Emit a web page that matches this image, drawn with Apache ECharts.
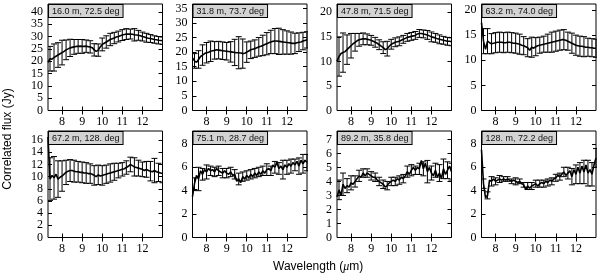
<!DOCTYPE html>
<html><head><meta charset="utf-8">
<script src="https://cdn.jsdelivr.net/npm/echarts@6/dist/echarts.min.js"></script>
<style>html,body{margin:0;padding:0;background:#fff}#c{width:600px;height:278px}</style>
</head><body><div id="c"></div>
<script>
// Wavelength grid (micron)
const wavelength = [7.3,7.4,7.5,7.6,7.7,7.8,7.9,8.0,8.1,8.2,
 8.3,8.4,8.5,8.6,8.7,8.8,8.9,9.0,9.1,9.2,
 9.3,9.4,9.5,9.6,9.7,9.8,9.9,10.0,10.1,10.2,
 10.3,10.4,10.5,10.6,10.7,10.8,10.9,11.0,11.1,11.2,
 11.3,11.4,11.5,11.6,11.7,11.8,11.9,12.0,12.1,12.2,
 12.3,12.4,12.5,12.6,12.7,12.8,12.9,13.0];
// Error bars are drawn at every second wavelength (7.4, 7.6, ... 13.0)
const errWavelength = [7.4,7.6,7.8,8.0,8.2,8.4,8.6,8.8,9.0,9.2,9.4,9.6,9.8,10.0,10.2,
 10.4,10.6,10.8,11.0,11.2,11.4,11.6,11.8,12.0,12.2,12.4,12.6,12.8,13.0];

const panelLabels = ["16.0 m, 72.5 deg","31.8 m, 73.7 deg","47.8 m, 71.5 deg","63.2 m, 74.0 deg",
 "67.2 m, 128. deg","75.1 m, 28.7 deg","89.2 m, 35.8 deg","128. m, 72.2 deg"];

const flux1 = [19.5,21.0,20.8,21.5,22.0,22.5,23.0,23.5,24.0,24.6,
 25.0,25.4,25.6,25.8,26.0,26.0,26.1,26.0,26.0,26.1,
 25.9,25.8,25.5,24.6,24.0,24.5,25.8,26.8,27.3,27.8,
 28.3,28.8,29.1,29.4,29.8,30.0,30.3,30.6,30.8,31.0,
 31.0,31.0,30.9,30.7,30.6,30.5,30.3,30.0,29.8,29.5,
 29.3,29.2,29.0,28.8,28.7,28.5,28.4,28.3];
const err1 = [5,5.5,5,5,4,3.5,3,2.8,2.8,2.5,2.5,2.5,2.5,2.6,2.5,2.5,2.3,2.2,2.2,2.2,2.0,2.5,2.0,1.8,1.8,1.6,1.5,1.5,1.5];

const flux2 = [18.0,17.0,16.5,17.5,18.5,19.0,19.5,19.8,20.0,20.3,
 20.5,20.6,20.8,20.7,20.6,20.5,20.4,20.3,20.2,20.1,
 20.0,19.9,19.8,19.8,19.7,19.5,19.6,20.0,20.4,20.8,
 21.0,21.2,21.5,21.8,22.0,22.3,22.6,22.9,23.2,23.5,
 23.7,23.8,23.8,23.7,23.6,23.5,23.4,23.3,23.2,23.1,
 23.0,23.0,23.2,23.4,23.5,23.8,24.0,24.2];
const err2 = [2.5,3,3.5,3.5,3.5,3,3,3,3,3.5,4.5,5.5,5.0,3.5,3.0,3.0,3.2,3.5,3.8,4.0,4.3,4.5,4.2,4.0,3.8,3.5,3.2,3.0,2.8];

const flux3 = [10.0,11.0,11.6,11.8,12.0,12.4,12.8,13.2,13.6,13.9,
 14.2,14.4,14.5,14.6,14.6,14.5,14.4,14.3,14.1,13.9,
 13.7,13.4,13.1,12.8,12.4,12.6,13.1,13.5,13.7,13.9,
 14.0,14.1,14.3,14.5,14.7,14.9,15.0,15.1,15.2,15.3,
 15.6,15.7,15.7,15.6,15.5,15.4,15.2,15.0,14.9,14.8,
 14.6,14.5,14.4,14.3,14.2,14.1,14.1,14.0];
const err3 = [4,4,3,2.5,1.8,1.3,1.2,1.1,1.0,1.0,1.0,1.2,1.5,1.0,0.9,0.9,0.8,0.8,0.8,0.8,0.8,0.8,0.9,1.0,0.9,0.9,0.8,0.8,0.8];

const flux4 = [17.5,13.8,12.2,13.8,13.5,13.3,13.4,13.5,13.6,13.6,
 13.6,13.5,13.5,13.6,13.6,13.5,13.4,13.4,13.3,13.2,
 13.0,12.9,12.7,12.5,12.0,12.6,12.4,12.7,12.9,13.0,
 13.1,13.2,13.3,13.4,13.5,13.6,13.7,13.8,13.9,14.0,
 14.1,14.1,14.0,13.8,13.6,13.4,13.2,13.0,12.9,12.8,
 12.8,12.7,12.6,12.6,12.5,12.5,12.4,12.4];
const err4 = [2.5,2.5,2.0,2.0,2.0,2.0,2.0,2.0,2.0,2.0,1.8,1.8,2.0,1.8,1.6,1.6,1.8,2.0,2.0,2.0,2.0,1.8,2.0,2.0,2.0,2.0,1.8,1.8,1.8];

const flux5 = [16.5,9.6,10.2,9.8,10.4,9.6,9.9,10.1,10.4,10.7,
 10.9,11.0,11.0,10.9,10.8,10.8,10.7,10.7,10.6,10.6,
 10.5,10.5,10.4,10.2,10.0,10.3,10.1,10.2,10.3,10.4,
 10.5,10.6,10.7,10.8,10.9,11.0,11.1,11.2,11.3,11.5,
 11.7,12.0,11.8,11.6,11.5,11.4,11.3,11.2,11.0,11.2,
 11.0,10.9,10.8,11.0,10.8,10.7,10.6,10.5];
const err5 = [3.5,3.5,3.0,2.5,2.0,1.8,1.8,1.7,1.7,1.7,1.6,1.6,1.6,1.6,1.5,1.5,1.4,1.2,1.1,1.1,1.2,1.5,1.3,1.2,1.3,1.6,2.0,1.5,1.5];

const flux6 = [3.5,4.6,5.3,5.0,5.7,5.4,5.8,5.6,5.9,5.7,
 5.8,5.6,5.9,5.7,5.6,5.5,5.7,5.5,5.4,5.6,
 5.3,5.4,4.8,5.0,4.7,5.2,5.0,5.3,5.1,5.4,
 5.2,5.5,5.3,5.6,5.4,5.7,5.5,5.8,5.9,5.7,
 6.2,6.0,6.4,5.9,6.1,5.8,6.2,6.0,6.3,6.1,
 6.4,6.2,6.5,6.1,6.6,6.3,6.6,6.4];
const err6 = [0.5,1.0,0.5,0.6,0.4,0.4,0.4,0.4,0.4,0.4,0.4,0.5,0.4,0.4,0.4,0.4,0.4,0.4,0.5,0.4,0.5,0.5,0.8,0.6,0.6,0.5,0.7,0.8,0.7];

const flux7 = [2.9,3.4,3.0,3.8,3.5,3.7,3.6,3.9,3.8,4.0,
 4.2,4.4,4.3,4.6,4.4,4.6,4.5,4.4,4.3,4.3,
 4.1,4.0,3.9,3.8,3.6,3.7,3.9,4.0,4.1,4.0,
 4.2,4.1,4.3,4.2,4.4,4.7,4.5,4.8,5.0,4.8,
 5.0,4.9,5.5,4.9,5.3,4.7,5.0,4.6,4.4,4.8,
 4.3,4.6,4.2,4.9,4.5,4.8,5.1,4.7];
const err7 = [0.7,0.8,0.5,0.5,0.4,0.4,0.3,0.3,0.3,0.3,0.3,0.3,0.3,0.3,0.3,0.3,0.3,0.4,0.4,0.3,0.4,0.5,0.8,0.5,0.5,0.6,0.7,0.6,0.6];

const flux8 = [7.5,4.6,3.4,3.6,4.9,4.8,5.0,4.8,4.9,5.0,
 4.9,5.0,4.9,5.0,4.9,4.8,4.9,4.8,4.7,4.8,
 4.6,4.5,4.1,4.4,4.2,4.4,4.5,4.6,4.4,4.6,
 4.7,4.6,4.8,4.7,4.9,4.8,5.0,5.1,5.3,5.2,
 5.4,5.6,5.3,5.5,5.7,5.2,5.8,5.4,6.0,5.5,
 6.1,5.6,6.2,5.5,5.8,5.4,6.2,6.8];
const err8 = [0.4,0.3,0.4,0.3,0.3,0.2,0.2,0.2,0.3,0.2,0.2,0.3,0.3,0.3,0.3,0.3,0.3,0.3,0.3,0.3,0.4,0.5,0.7,0.8,0.9,1.0,1.1,1.0,0.8];

const yMax = [43.2,36.5,21.7,21.2,17.5,9.1,7.6,9.1];
const yTicks = [[0,5,10,15,20,25,30,35,40],[0,5,10,15,20,25,30,35],[0,5,10,15,20],[0,5,10,15,20],
 [0,2,4,6,8,10,12,14,16],[0,2,4,6,8],[0,1,2,3,4,5,6,7],[0,2,4,6,8]];
const xTicks = [8,9,10,11,12];
const xMin = 7.3, xMax = 13.0;

const fluxes = [flux1,flux2,flux3,flux4,flux5,flux6,flux7,flux8];
const errs = [err1,err2,err3,err4,err5,err6,err7,err8];

const lefts = [48,192.5,337,481.5];
const tops = [4,131];
const gw = 114.5, gh = 106.5;
const serif = 'Liberation Serif';
const sans = 'Liberation Sans';

const grids=[], xAxes=[], yAxes=[], series=[], graphics=[];
for (let i=0;i<8;i++){
  const L = lefts[i%4], T = tops[Math.floor(i/4)];
  grids.push({left:L, top:T, width:gw, height:gh, show:true, borderColor:'#000', borderWidth:1, backgroundColor:'transparent'});
}
const tickStyle = {show:true, inside:true, length:4, lineStyle:{color:'#000', width:1}};
for (let i=0;i<8;i++){
  xAxes.push({type:'value', gridIndex:i, min:xMin, max:xMax, position:'bottom',
    axisLine:{show:false}, splitLine:{show:false},
    axisTick:Object.assign({customValues:xTicks}, tickStyle),
    axisLabel:{customValues:xTicks, fontFamily:serif, fontSize:12, color:'#000', margin:5}});
  yAxes.push({type:'value', gridIndex:i, min:0, max:yMax[i], position:'left',
    axisLine:{show:false}, splitLine:{show:false},
    axisTick:Object.assign({customValues:yTicks[i]}, tickStyle),
    axisLabel:{customValues:yTicks[i], fontFamily:serif, fontSize:12, color:'#000', margin:5}});
}
for (let i=0;i<8;i++){
  xAxes.push({type:'value', gridIndex:i, min:xMin, max:xMax, position:'top',
    axisLine:{show:false}, splitLine:{show:false},
    axisTick:Object.assign({customValues:xTicks}, tickStyle), axisLabel:{show:false}});
  yAxes.push({type:'value', gridIndex:i, min:0, max:yMax[i], position:'right',
    axisLine:{show:false}, splitLine:{show:false},
    axisTick:Object.assign({customValues:yTicks[i]}, tickStyle), axisLabel:{show:false}});
}
function errRender(params, api){
  const x = api.value(0), y = api.value(1), e = api.value(2);
  const t = api.coord([x, y+e]), b = api.coord([x, y-e]);
  const c = 3;
  const st = {stroke:'#000', lineWidth:1};
  return {type:'group', children:[
    {type:'line', shape:{x1:t[0],y1:t[1],x2:b[0],y2:b[1]}, style:st},
    {type:'line', shape:{x1:t[0]-c,y1:t[1],x2:t[0]+c,y2:t[1]}, style:st},
    {type:'line', shape:{x1:b[0]-c,y1:b[1],x2:b[0]+c,y2:b[1]}, style:st}
  ]};
}
for (let i=0;i<8;i++){
  const f = fluxes[i], e = errs[i];
  series.push({type:'custom', xAxisIndex:i, yAxisIndex:i, clip:true, silent:true,
    renderItem:errRender,
    data: errWavelength.map((w,k)=>[w, f[wavelength.indexOf(w)], e[k]])});
  series.push({type:'line', xAxisIndex:i, yAxisIndex:i, showSymbol:false, clip:true, silent:true,
    lineStyle:{color:'#000', width:1.6}, data: wavelength.map((w,k)=>[w, f[k]])});
  const L = lefts[i%4], T = tops[Math.floor(i/4)];
  graphics.push({type:'text', left:L, top:T, z:100,
    style:{text:panelLabels[i], font:'9px '+sans, fill:'#111',
      backgroundColor:'#d3d3d3', borderColor:'#000', borderWidth:1, padding:[2,3,1,3]}});
}
graphics.push({type:'text', left:2, top:'middle', rotation:Math.PI/2, z:100,
  style:{text:'Correlated flux (Jy)', font:'12px '+sans, fill:'#000'}});
graphics.push({type:'text', left:273, top:261, z:100,
  style:{text:'{a|Wavelength (}{b|μ}{a|m)}', rich:{a:{font:'12px '+sans, fill:'#000'}, b:{font:'italic 12px '+serif, fill:'#000'}}}});

const chart = echarts.init(document.getElementById('c'), null, {renderer:'canvas'});
chart.setOption({animation:false, grid:grids, xAxis:xAxes, yAxis:yAxes, series:series, graphic:graphics});
</script></body></html>
